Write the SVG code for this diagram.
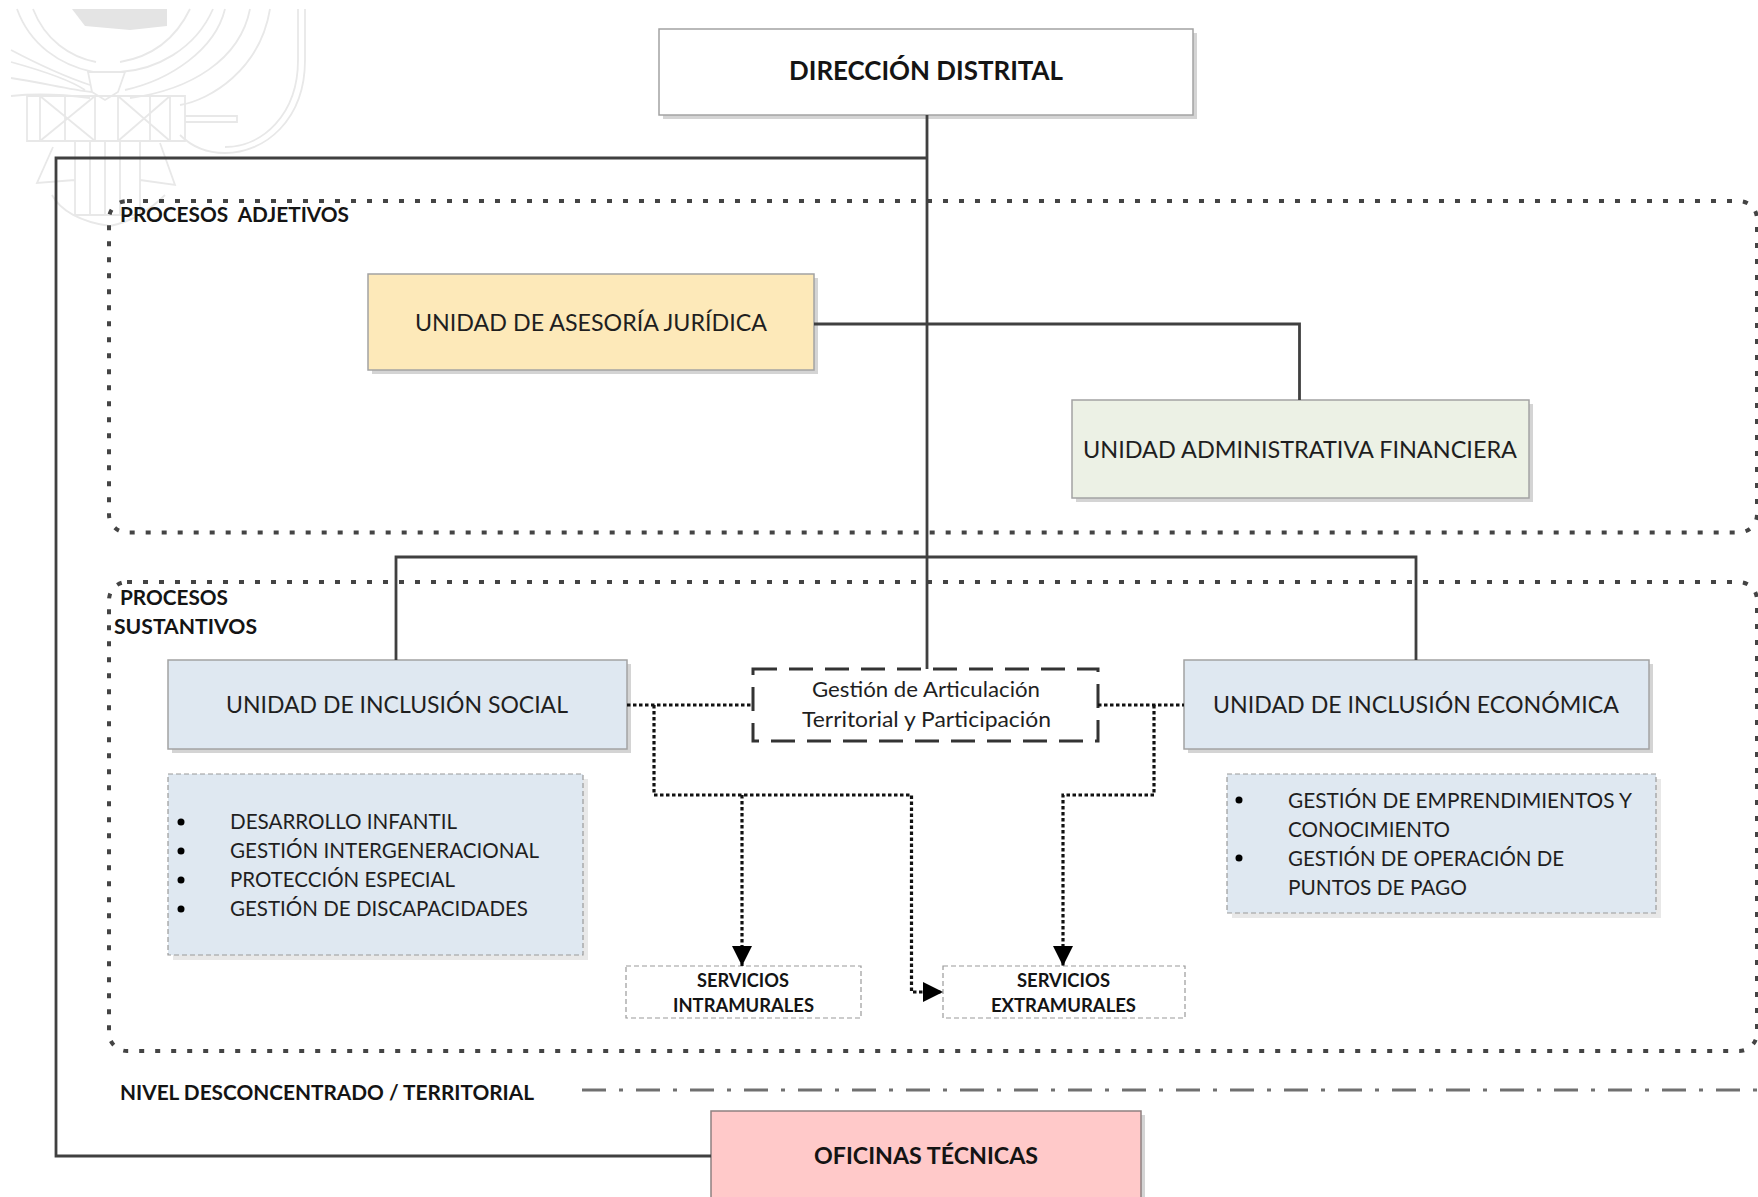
<svg xmlns="http://www.w3.org/2000/svg" width="1758" height="1197" viewBox="0 0 1758 1197">
<style>
text{font-family:Lato,"Open Sans","Liberation Sans",sans-serif;fill:#1f1f1f;font-size:23px}
.b{font-weight:700;fill:#141414}
.s{font-size:20px}
.l{font-size:21px}
.v{font-size:18px}
.box{stroke:#a3a3a3;stroke-width:1.5}
.sh{fill:#d4d4d4}
.solid{fill:none;stroke:#404040;stroke-width:2.8}
.area{fill:none;stroke:#444;stroke-width:4;stroke-dasharray:5 11}
.dot{fill:none;stroke:#111;stroke-width:3.2;stroke-dasharray:3.5 2.5}
.thin{stroke:#9a9a9a;stroke-width:1.2;stroke-dasharray:5 3}
.em{fill:none;stroke:#e8e8e8;stroke-width:1.8}
</style>
<defs>
<marker id="ah" markerUnits="userSpaceOnUse" markerWidth="22" markerHeight="22" refX="20" refY="10" orient="auto"><path d="M0 0L20 10L0 20Z" fill="#000"/></marker>
</defs>
<g id="emblem">
<path class="em" d="M17 9C30 45 60 65 93 72M33 9C45 40 70 57 96 62M213 9C195 50 155 70 120 72M190 9C175 40 150 57 120 62"/>
<path d="M72 9H167V26L130 30L85 26Z" fill="#e4e4e4"/>
<path class="em" d="M11 50C30 60 60 75 90 85M11 62C40 70 70 80 85 90M11 78C40 82 70 90 92 92M11 96C30 94 60 94 90 98M225 9C215 50 170 80 125 90M250 9C240 60 190 90 130 98M270 9C260 70 210 100 180 105M305 9V60C305 120 265 153 225 153C205 153 190 145 180 135M298 9V60C298 115 262 147 225 147"/>
<path class="em" d="M92 92L105 100L118 92L125 72H88ZM27 96H185V141H27ZM40 96V141M65 96V141M95 96V141M118 96V141M150 96V141M170 96V141M40 96L95 141M95 96L40 141M118 96L170 141M170 96L118 141M185 116H237V122H185M75 141V215H140V141M90 141V215M105 141V215M120 141V215M53 147L37 183L75 180M160 143L175 185L140 180M52 195C60 210 80 222 110 226C130 222 150 210 165 195"/>
</g>
<g id="area-adjetivos"><rect class="area" x="109" y="201" width="1648" height="331.500" rx="18"/><text class="b s" style="white-space:pre" x="120" y="222" textLength="229" lengthAdjust="spacingAndGlyphs">PROCESOS  ADJETIVOS</text></g>
<g id="area-sustantivos"><rect class="area" x="109" y="582" width="1648" height="469" rx="18"/><text class="b s" x="120" y="605" textLength="108" lengthAdjust="spacingAndGlyphs">PROCESOS</text><text class="b s" x="114" y="634" textLength="143" lengthAdjust="spacingAndGlyphs">SUSTANTIVOS</text></g>
<g id="direccion"><rect class="sh" x="663" y="33" width="534" height="86"/><rect class="box" x="659" y="29" width="534" height="86" fill="#fff"/><text class="b" style="font-size:27px" x="789" y="80" textLength="274" lengthAdjust="spacingAndGlyphs">DIRECCIÓN DISTRITAL</text></g>
<g id="juridica"><rect class="sh" x="372" y="278" width="446" height="96"/><rect class="box" x="368" y="274" width="446" height="96" fill="#fde9b9"/><text x="415" y="331" textLength="352" lengthAdjust="spacingAndGlyphs">UNIDAD DE ASESORÍA JURÍDICA</text></g>
<g id="administrativa"><rect class="sh" x="1076" y="404" width="457" height="98"/><rect class="box" x="1072" y="400" width="457" height="98" fill="#ecf1e5"/><text x="1083" y="458" textLength="434" lengthAdjust="spacingAndGlyphs">UNIDAD ADMINISTRATIVA FINANCIERA</text></g>
<g id="social"><rect class="sh" x="172" y="664" width="459" height="89"/><rect class="box" x="168" y="660" width="459" height="89" fill="#dfe8f1"/><text x="226" y="713" textLength="342" lengthAdjust="spacingAndGlyphs">UNIDAD DE INCLUSIÓN SOCIAL</text></g>
<g id="economica"><rect class="sh" x="1188" y="664" width="465" height="89"/><rect class="box" x="1184" y="660" width="465" height="89" fill="#dfe8f1"/><text x="1213" y="713" textLength="406" lengthAdjust="spacingAndGlyphs">UNIDAD DE INCLUSIÓN ECONÓMICA</text></g>
<g id="articulacion"><rect x="753" y="669" width="345" height="72" fill="#fff" stroke="#333" stroke-width="3" stroke-dasharray="24 12"/><text class="l" x="812" y="697" textLength="228" lengthAdjust="spacingAndGlyphs">Gestión de Articulación</text><text class="l" x="802" y="727" textLength="249" lengthAdjust="spacingAndGlyphs">Territorial y Participación</text></g>
<g id="lista-social"><rect x="173" y="779" width="415" height="181" fill="#e8e8e8"/><rect class="thin" x="168" y="774" width="415" height="181" fill="#dfe8f1"/>
<circle cx="181" cy="822" r="3.500" fill="#000"/><circle cx="181" cy="851" r="3.500" fill="#000"/><circle cx="181" cy="880" r="3.500" fill="#000"/><circle cx="181" cy="909" r="3.500" fill="#000"/>
<text class="l" x="230" y="829" textLength="227" lengthAdjust="spacingAndGlyphs">DESARROLLO INFANTIL</text><text class="l" x="230" y="858" textLength="309" lengthAdjust="spacingAndGlyphs">GESTIÓN INTERGENERACIONAL</text><text class="l" x="230" y="887" textLength="225" lengthAdjust="spacingAndGlyphs">PROTECCIÓN ESPECIAL</text><text class="l" x="230" y="916" textLength="298" lengthAdjust="spacingAndGlyphs">GESTIÓN DE DISCAPACIDADES</text></g>
<g id="lista-economica"><rect x="1232" y="779" width="429" height="139" fill="#e8e8e8"/><rect class="thin" x="1227" y="774" width="429" height="139" fill="#dfe8f1"/>
<circle cx="1239" cy="800" r="3.500" fill="#000"/><circle cx="1239" cy="858" r="3.500" fill="#000"/>
<text class="l" x="1288" y="808" textLength="344" lengthAdjust="spacingAndGlyphs">GESTIÓN DE EMPRENDIMIENTOS Y</text><text class="l" x="1288" y="837" textLength="162" lengthAdjust="spacingAndGlyphs">CONOCIMIENTO</text><text class="l" x="1288" y="866" textLength="276" lengthAdjust="spacingAndGlyphs">GESTIÓN DE OPERACIÓN DE</text><text class="l" x="1288" y="895" textLength="179" lengthAdjust="spacingAndGlyphs">PUNTOS DE PAGO</text></g>
<g id="intramurales"><rect class="thin" x="626" y="966" width="235" height="52" fill="#fff"/><text class="b v" x="697" y="987" textLength="92" lengthAdjust="spacingAndGlyphs">SERVICIOS</text><text class="b v" x="673" y="1012" textLength="141" lengthAdjust="spacingAndGlyphs">INTRAMURALES</text></g>
<g id="extramurales"><rect class="thin" x="943" y="966" width="242" height="52" fill="#fff"/><text class="b v" x="1017" y="987" textLength="93" lengthAdjust="spacingAndGlyphs">SERVICIOS</text><text class="b v" x="991" y="1012" textLength="145" lengthAdjust="spacingAndGlyphs">EXTRAMURALES</text></g>
<g id="nivel"><text class="b s" x="120" y="1100" textLength="414" lengthAdjust="spacingAndGlyphs">NIVEL DESCONCENTRADO / TERRITORIAL</text></g>
<g id="oficinas"><rect class="sh" x="715" y="1115" width="430" height="90"/><rect class="box" x="711" y="1111" width="430" height="95" fill="#ffc9c9" style="stroke:#8f8080"/><text class="b" x="814" y="1164" textLength="224" lengthAdjust="spacingAndGlyphs">OFICINAS TÉCNICAS</text></g>
<g id="connectors">
<path class="solid" d="M927 115V669M927 158H56V1156H711"/>
<path class="solid" d="M814 324H1299.500V400"/>
<path class="solid" d="M396 660V557H1416V660"/>
<path class="dot" d="M627 705H752"/>
<path class="dot" d="M1098 705H1184"/>
<path class="dot" d="M654 705V795H911.500V992H943" marker-end="url(#ah)"/>
<path class="dot" d="M742 795V966" marker-end="url(#ah)"/>
<path class="dot" d="M1154 705V795H1063V966" marker-end="url(#ah)"/>
<path fill="none" stroke="#707070" stroke-width="3" stroke-dasharray="24 13 4 13" d="M582 1090H1758"/>
</g>
</svg>
